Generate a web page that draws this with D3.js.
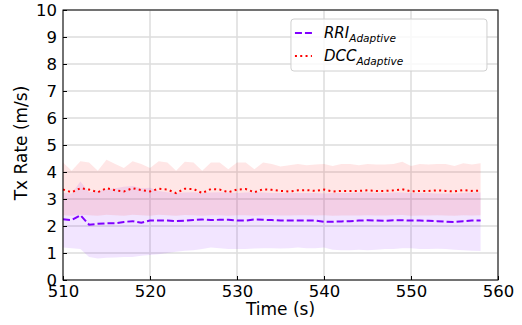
<!DOCTYPE html>
<html>
<head>
<meta charset="utf-8">
<script src="https://cdn.jsdelivr.net/npm/d3@7"></script>
<style>
  body { margin: 0; background: #fff; }
  text { font-family: "DejaVu Sans", sans-serif; fill: #000; }
</style>
</head>
<body>
<div id="chart"></div>
<script>
var svgWidth = 522;
var svgHeight = 325;

var margin = { top: 10, right: 24, bottom: 45, left: 63 };
var width = svgWidth - margin.left - margin.right;
var height = svgHeight - margin.top - margin.bottom;

// time steps, one per second
var times = d3.range(510, 559);

var xTicks = [510, 520, 530, 540, 550, 560];
var yTicks = [0, 1, 2, 3, 4, 5, 6, 7, 8, 9, 10];

// RRI adaptive: mean and shaded band
var rriMean = [2.25, 2.22, 2.40, 2.05, 2.08, 2.10, 2.10, 2.15, 2.18, 2.12,
  2.20, 2.20, 2.20, 2.18, 2.20, 2.22, 2.24, 2.22, 2.23, 2.23,
  2.20, 2.20, 2.24, 2.23, 2.22, 2.20, 2.20, 2.20, 2.20, 2.20,
  2.16, 2.16, 2.17, 2.18, 2.20, 2.21, 2.20, 2.19, 2.21, 2.21,
  2.20, 2.20, 2.19, 2.18, 2.16, 2.15, 2.18, 2.20, 2.20];
var rriLow = [1.20, 1.18, 1.15, 0.85, 0.80, 0.82, 0.83, 0.85, 0.85, 0.90,
  0.93, 0.95, 1.00, 1.05, 1.08, 1.10, 1.15, 1.20, 1.18, 1.15,
  1.15, 1.15, 1.17, 1.18, 1.18, 1.17, 1.18, 1.20, 1.18, 1.18,
  1.20, 1.12, 1.10, 1.10, 1.12, 1.10, 1.12, 1.15, 1.15, 1.18,
  1.18, 1.15, 1.15, 1.16, 1.15, 1.12, 1.10, 1.08, 1.07];
var rriHigh = [3.22, 3.20, 3.65, 3.25, 3.30, 3.35, 3.40, 3.45, 3.48, 3.40,
  3.42, 3.30, 3.25, 3.22, 3.24, 3.25, 3.22, 3.24, 3.25, 3.24,
  3.22, 3.24, 3.25, 3.24, 3.22, 3.22, 3.22, 3.22, 3.22, 3.22,
  3.20, 3.22, 3.22, 3.22, 3.24, 3.24, 3.22, 3.22, 3.24, 3.24,
  3.22, 3.22, 3.22, 3.20, 3.20, 3.20, 3.22, 3.24, 3.24];

// DCC adaptive: mean and shaded band
var dccMean = [3.35, 3.25, 3.40, 3.35, 3.25, 3.40, 3.32, 3.28, 3.40, 3.33,
  3.28, 3.38, 3.35, 3.22, 3.38, 3.37, 3.22, 3.37, 3.35, 3.25,
  3.35, 3.37, 3.25, 3.36, 3.34, 3.30, 3.28, 3.32, 3.33, 3.30,
  3.35, 3.28, 3.30, 3.30, 3.30, 3.32, 3.30, 3.30, 3.32, 3.36,
  3.28, 3.30, 3.30, 3.32, 3.30, 3.28, 3.33, 3.30, 3.31];
var dccLow = [2.40, 2.38, 2.42, 2.40, 2.38, 2.42, 2.40, 2.38, 2.42, 2.40,
  2.38, 2.42, 2.40, 2.38, 2.41, 2.40, 2.38, 2.40, 2.40, 2.38,
  2.40, 2.40, 2.38, 2.40, 2.40, 2.39, 2.39, 2.40, 2.40, 2.39,
  2.40, 2.38, 2.39, 2.39, 2.39, 2.40, 2.39, 2.39, 2.40, 2.41,
  2.38, 2.39, 2.39, 2.40, 2.39, 2.38, 2.40, 2.39, 2.40];
var dccHigh = [4.35, 4.05, 4.40, 4.35, 4.05, 4.45, 4.30, 4.15, 4.40, 4.30,
  4.15, 4.40, 4.35, 4.05, 4.38, 4.35, 4.05, 4.35, 4.35, 4.10,
  4.35, 4.35, 4.10, 4.35, 4.30, 4.20, 4.25, 4.30, 4.25, 4.28,
  4.30, 4.22, 4.30, 4.30, 4.25, 4.30, 4.28, 4.28, 4.30, 4.38,
  4.22, 4.30, 4.28, 4.30, 4.30, 4.22, 4.32, 4.28, 4.32];

var seriesNames = ["RRI", "DCC"];
var subscript = "Adaptive";

var svg = d3.select("#chart")
  .append("svg")
  .attr("width", svgWidth)
  .attr("height", svgHeight);

var chartGroup = svg.append("g")
  .attr("transform", `translate(${margin.left}, ${margin.top})`);

var xScale = d3.scaleLinear().domain([510, 560]).range([0, width]);
var yScale = d3.scaleLinear().domain([0, 10]).range([height, 0]);

// grid
chartGroup.append("g").selectAll("line")
  .data(yTicks)
  .enter().append("line")
  .attr("x1", 0).attr("x2", width)
  .attr("y1", d => yScale(d)).attr("y2", d => yScale(d))
  .attr("stroke", "#dcdcdc").attr("stroke-width", 1.5);
chartGroup.append("g").selectAll("line")
  .data(xTicks)
  .enter().append("line")
  .attr("y1", 0).attr("y2", height)
  .attr("x1", d => xScale(d)).attr("x2", d => xScale(d))
  .attr("stroke", "#dcdcdc").attr("stroke-width", 1.5);

var band = d3.area()
  .x(d => xScale(d.t))
  .y0(d => yScale(d.lo))
  .y1(d => yScale(d.hi));

var line = d3.line()
  .x(d => xScale(d.t))
  .y(d => yScale(d.v));

var rriBand = times.map((t, i) => ({ t: t, lo: rriLow[i], hi: rriHigh[i] }));
var dccBand = times.map((t, i) => ({ t: t, lo: dccLow[i], hi: dccHigh[i] }));

chartGroup.append("path")
  .datum(rriBand)
  .attr("d", band)
  .attr("fill", "#8000ff")
  .attr("fill-opacity", 0.1);

chartGroup.append("path")
  .datum(dccBand)
  .attr("d", band)
  .attr("fill", "#ff3030")
  .attr("fill-opacity", 0.12);

chartGroup.append("path")
  .datum(times.map((t, i) => ({ t: t, v: rriMean[i] })))
  .attr("d", line)
  .attr("fill", "none")
  .attr("stroke", "#8000ff")
  .attr("stroke-width", 2)
  .attr("stroke-dasharray", "7,3");

chartGroup.append("path")
  .datum(times.map((t, i) => ({ t: t, v: dccMean[i] })))
  .attr("d", line)
  .attr("fill", "none")
  .attr("stroke", "#ff0000")
  .attr("stroke-width", 2)
  .attr("stroke-dasharray", "2,3.3");

// axes with inward ticks
var bottomAxis = d3.axisBottom(xScale).tickValues(xTicks).tickSizeInner(-4).tickSizeOuter(0);
var leftAxis = d3.axisLeft(yScale).tickValues(yTicks).tickSizeInner(-4).tickSizeOuter(0).tickPadding(6);

var xAxis = chartGroup.append("g")
  .attr("transform", `translate(0, ${height})`)
  .call(bottomAxis);
xAxis.selectAll("text").attr("font-size", 16.5).attr("y", 17).attr("dy", 0);

var yAxis = chartGroup.append("g").call(leftAxis);
yAxis.selectAll("text").attr("font-size", 16.5);

[xAxis, yAxis].forEach(a => {
  a.select(".domain").remove();
  a.selectAll("line").attr("stroke", "#000");
  a.selectAll("text").attr("font-family", "DejaVu Sans");
});

// frame
chartGroup.append("rect")
  .attr("width", width).attr("height", height)
  .attr("fill", "none").attr("stroke", "#000").attr("stroke-width", 1);

// axis labels
chartGroup.append("text")
  .attr("x", width / 2)
  .attr("y", height + 35)
  .attr("text-anchor", "middle")
  .attr("font-size", 17)
  .text("Time (s)");

chartGroup.append("text")
  .attr("transform", "rotate(-90)")
  .attr("x", -height / 2 + 2)
  .attr("y", -36)
  .attr("text-anchor", "middle")
  .attr("font-size", 17)
  .text("Tx Rate (m/s)");

// legend
var legend = chartGroup.append("g")
  .attr("transform", `translate(${xScale(536.2)}, 9)`);

legend.append("rect")
  .attr("width", 196).attr("height", 52)
  .attr("rx", 3)
  .attr("fill", "#fff").attr("fill-opacity", 0.8)
  .attr("stroke", "#d0d0d0");

var legendStyles = [
  { color: "#8000ff", dash: "7,3" },
  { color: "#ff0000", dash: "2,3.3" }
];

seriesNames.forEach((name, i) => {
  var row = legend.append("g").attr("transform", `translate(0, ${14 + i * 23})`);
  row.append("line")
    .attr("x1", 4).attr("x2", 21)
    .attr("stroke", legendStyles[i].color)
    .attr("stroke-width", 2)
    .attr("stroke-dasharray", legendStyles[i].dash);
  var t = row.append("text")
    .attr("x", 33).attr("y", 5)
    .attr("font-size", 15)
    .attr("font-style", "italic");
  t.append("tspan").text(name);
  t.append("tspan").attr("font-size", 10.5).attr("dy", 4).text(subscript);
});
</script>
</body>
</html>
